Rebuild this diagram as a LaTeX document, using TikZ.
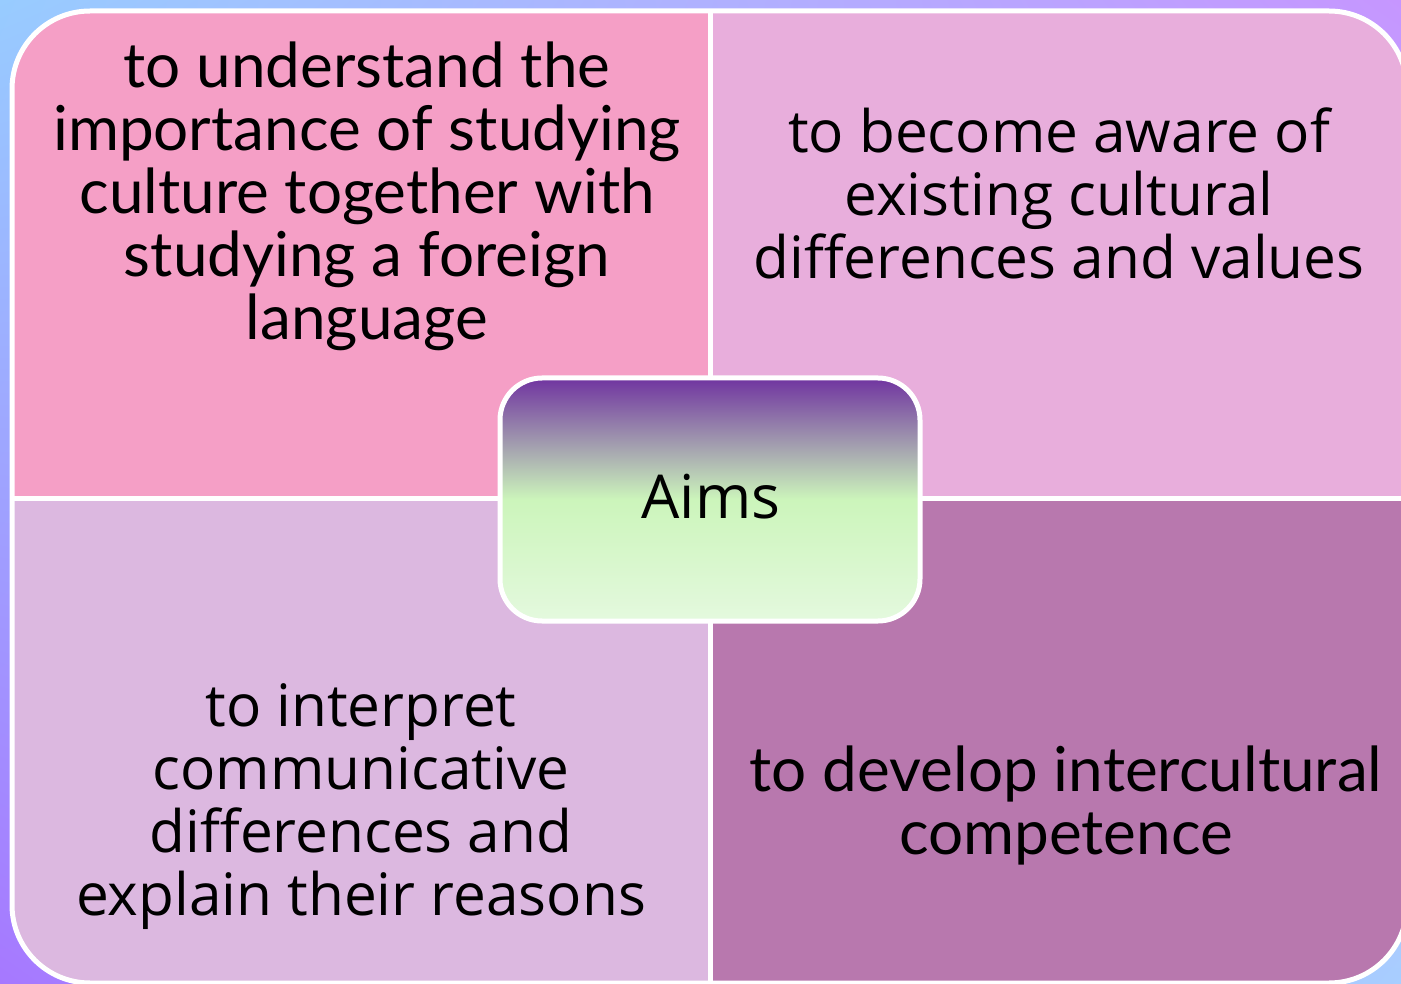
\documentclass[tikz,border=0pt]{standalone}
\usepackage{fontspec}
\setmainfont{Lato}
\newfontfamily\plexlike{Open Sans}
\usetikzlibrary{positioning,shadings}
\definecolor{bgTL}{RGB}{152,204,255}
\definecolor{bgTR}{RGB}{198,150,255}
\definecolor{bgBL}{RGB}{166,120,255}
\definecolor{bgBR}{RGB}{168,206,255}
\definecolor{qTL}{RGB}{245,159,198}
\definecolor{qTR}{RGB}{232,174,220}
\definecolor{qBL}{RGB}{220,184,224}
\definecolor{qBR}{RGB}{184,120,174}
\definecolor{aimTop}{RGB}{112,52,160}
\definecolor{aimMid}{RGB}{204,245,187}
\definecolor{aimBot}{RGB}{228,249,222}
\tikzset{
  qtext/.style={align=center, text=black, font=\fontsize{62}{63}\selectfont, inner sep=0pt},
  otext/.style={qtext, font=\plexlike\fontsize{58.5}{63}\selectfont},
  divider/.style={draw=white, line width=5pt}
}
\begin{document}
\begin{tikzpicture}[x=1pt,y=-1pt]
\useasboundingbox (0,0) rectangle (1401,984);
% background
\shade[upper left=bgTL, upper right=bgTR, lower left=bgBL, lower right=bgBR] (0,0) rectangle (1401,984);
% quadrants
\begin{scope}
  \clip[rounded corners=78pt] (12,11) rectangle (1407,983);
  \fill[qTL] (0,0) rectangle (710,498);
  \fill[qTR] (710,0) rectangle (1410,498);
  \fill[qBL] (0,498) rectangle (710,990);
  \fill[qBR] (710,498) rectangle (1410,990);
\end{scope}
\draw[divider, rounded corners=78pt] (12,11) rectangle (1407,983);
\draw[divider] (710,11) -- (710,983);
\draw[divider] (12,498) -- (1407,498);
% texts
\node[qtext] (tl) at (367,196) {to understand the\\importance of studying\\culture together with\\studying a foreign\\language};
\node[otext] (tr) at (1059,193) {to become aware of\\existing cultural\\differences and values};
\node[otext] (bl) at (361,807) {to interpret\\communicative\\differences and\\explain their reasons};
\node[qtext] (br) at (1066,805) {to develop intercultural\\competence};
% center
\shade[top color=aimTop, bottom color=aimBot, middle color=aimMid, rounded corners=42pt] (500,378) rectangle (920,621);
\draw[divider, rounded corners=42pt] (500,378) rectangle (920,621);
\node[otext, font=\plexlike\fontsize{60.5}{63}\selectfont] (aims) at (711,497) {Aims};
\end{tikzpicture}
\end{document}
